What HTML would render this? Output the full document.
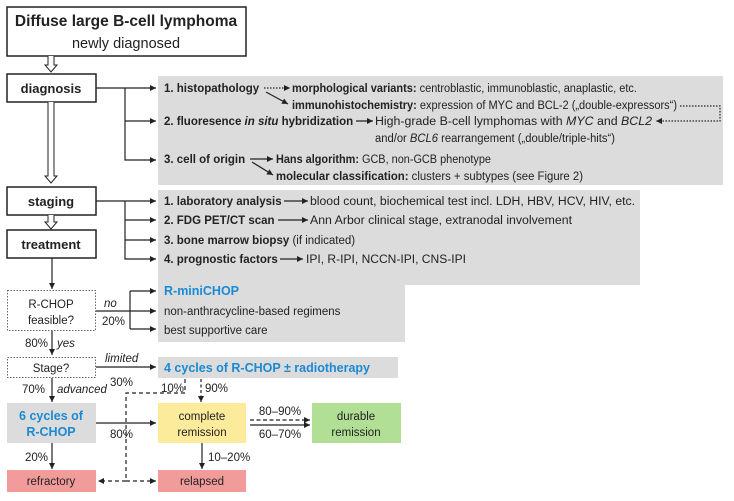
<!DOCTYPE html>
<html><head><meta charset="utf-8"><style>
body{margin:0;background:#fff;}
svg{font-family:"Liberation Sans",Arial,sans-serif;}
text{font-size:11.5px;fill:#222;}
.b{font-weight:bold;}
.bl{fill:#1a8ad4;font-weight:bold;}
.i{font-style:italic;}
</style></head><body>
<svg width="734" height="496" viewBox="0 0 734 496" xmlns="http://www.w3.org/2000/svg">
<defs>
<marker id="a" markerWidth="6" markerHeight="6" refX="5" refY="3" orient="auto"><path d="M0,0.5 L5,3 L0,5.5z" fill="#222"/></marker>
</defs>
<rect x="158" y="76" width="565" height="109" fill="#dcdcdc"/>
<rect x="158" y="190" width="482" height="95" fill="#dcdcdc"/>
<rect x="158" y="279" width="247" height="63" fill="#dcdcdc"/>
<rect x="158" y="357" width="240" height="21" fill="#dcdcdc"/>
<rect x="7" y="7" width="239" height="49" fill="#fff" stroke="#222" stroke-width="1.5"/>
<text x="126" y="26" text-anchor="middle" class="b" style="font-size:15.5px">Diffuse large B-cell lymphoma</text>
<text x="126" y="48" text-anchor="middle" style="font-size:14.5px">newly diagnosed</text>
<rect x="7" y="74" width="89" height="28" fill="#fff" stroke="#222" stroke-width="1.5"/>
<text x="51" y="93" text-anchor="middle" class="b" style="font-size:13px">diagnosis</text>
<rect x="7" y="187" width="89" height="28" fill="#fff" stroke="#222" stroke-width="1.5"/>
<text x="51" y="206" text-anchor="middle" class="b" style="font-size:13px">staging</text>
<rect x="7" y="230" width="89" height="28" fill="#fff" stroke="#222" stroke-width="1.5"/>
<text x="51" y="249" text-anchor="middle" class="b" style="font-size:13px">treatment</text>
<g fill="#fff" stroke="#222" stroke-width="1">
<path d="M48,56 V65 H45 L51,72 L57,65 H54 V56"/>
<path d="M48,102 V176 H45 L51,183 L57,176 H54 V102"/>
<path d="M48,215 V222 H45 L51,229 L57,222 H54 V215"/>
</g>
<g stroke="#222" stroke-width="1.2" fill="none">
<path d="M96,88 H156" marker-end="url(#a)"/>
<path d="M125,88 V160 H156" marker-end="url(#a)"/>
<path d="M125,121 H156" marker-end="url(#a)"/>
<path d="M96,201 H156" marker-end="url(#a)"/>
<path d="M125,201 V259 H156" marker-end="url(#a)"/>
<path d="M125,220 H156" marker-end="url(#a)"/>
<path d="M125,240 H156" marker-end="url(#a)"/>
<path d="M264,88 H290" stroke-dasharray="1.5,1.5" marker-end="url(#a)"/>
<path d="M266,92 L288,104" marker-end="url(#a)"/>
<path d="M356,121 H373" marker-end="url(#a)"/>
<path d="M250,159 H273" marker-end="url(#a)"/>
<path d="M252,162 L273,175" marker-end="url(#a)"/>
<path d="M680,106 H720 V121 H656" stroke-dasharray="1.5,1.5" marker-end="url(#a)"/>
<path d="M284,201 H308" marker-end="url(#a)"/>
<path d="M278,220 H308" marker-end="url(#a)"/>
<path d="M280,259 H303" marker-end="url(#a)"/>
<path d="M52,258 V289" marker-end="url(#a)"/>
<path d="M96,311 H156" marker-end="url(#a)"/>
<path d="M130,291 V329" />
<path d="M130,291 H156" marker-end="url(#a)"/>
<path d="M130,329 H156" marker-end="url(#a)"/>
<path d="M52,330 V355" marker-end="url(#a)"/>
<path d="M96,367 H156" marker-end="url(#a)"/>
<path d="M52,378 V402" marker-end="url(#a)"/>
<path d="M96,423 H156" marker-end="url(#a)"/>
<path d="M52,443 V469" marker-end="url(#a)"/>
<path d="M202,443 V469" marker-end="url(#a)"/>
<path d="M250,425 H310" marker-end="url(#a)"/>
<path d="M250,420 H310" stroke-dasharray="4,2.5" marker-end="url(#a)"/>
<path d="M201,379 V402" stroke-dasharray="3,2.5" marker-end="url(#a)"/>
<path d="M185,379 V393 H126 V481" stroke-dasharray="4,3"/>
<path d="M126,481 H156" stroke-dasharray="4,3" marker-end="url(#a)"/>
<path d="M126,481 H98" stroke-dasharray="4,3" marker-end="url(#a)"/>
</g>
<rect x="7.5" y="290.5" width="88" height="40" fill="#fff" stroke="#666" stroke-dasharray="1.5,1.5"/>
<rect x="7.5" y="357.5" width="88" height="20" fill="#fff" stroke="#666" stroke-dasharray="1.5,1.5"/>
<rect x="7" y="403" width="89" height="40" fill="#dcdcdc"/>
<rect x="158" y="403" width="88" height="40" fill="#fdeb9c"/>
<rect x="312" y="403" width="89" height="40" fill="#b2df96"/>
<rect x="7" y="470" width="89" height="22" fill="#f29b9b"/>
<rect x="158" y="470" width="88" height="22" fill="#f29b9b"/>
<text x="164" y="92" class="b">1. histopathology</text>
<text x="292" y="92" textLength="345" lengthAdjust="spacingAndGlyphs"><tspan class="b">morphological variants:</tspan> centroblastic, immunoblastic, anaplastic, etc.</text>
<text x="292" y="109" textLength="385" lengthAdjust="spacingAndGlyphs"><tspan class="b">immunohistochemistry:</tspan> expression of MYC and BCL-2 („double-expressors“)</text>
<text x="164" y="125" class="b">2. fluoresence <tspan class="i">in situ</tspan> hybridization</text>
<text x="375" y="125" textLength="277" lengthAdjust="spacingAndGlyphs">High-grade B-cell lymphomas with <tspan class="i">MYC</tspan> and <tspan class="i">BCL2</tspan></text>
<text x="375" y="142" textLength="240" lengthAdjust="spacingAndGlyphs">and/or <tspan class="i">BCL6</tspan> rearrangement („double/triple-hits“)</text>
<text x="164" y="163" class="b">3. cell of origin</text>
<text x="276" y="163" textLength="215" lengthAdjust="spacingAndGlyphs"><tspan class="b">Hans algorithm:</tspan> GCB, non-GCB phenotype</text>
<text x="276" y="180" textLength="307" lengthAdjust="spacingAndGlyphs"><tspan class="b">molecular classification:</tspan> clusters + subtypes (see Figure 2)</text>
<text x="164" y="205" class="b">1. laboratory analysis</text>
<text x="310" y="205" textLength="325" lengthAdjust="spacingAndGlyphs">blood count, biochemical test incl. LDH, HBV, HCV, HIV, etc.</text>
<text x="164" y="224" class="b">2. FDG PET/CT scan</text>
<text x="310" y="224" textLength="262" lengthAdjust="spacingAndGlyphs">Ann Arbor clinical stage, extranodal involvement</text>
<text x="164" y="244"><tspan class="b">3. bone marrow biopsy</tspan> (if indicated)</text>
<text x="164" y="263" class="b">4. prognostic factors</text>
<text x="306" y="263" textLength="160" lengthAdjust="spacingAndGlyphs">IPI, R-IPI, NCCN-IPI, CNS-IPI</text>
<text x="51" y="308" text-anchor="middle">R-CHOP</text>
<text x="51" y="324" text-anchor="middle">feasible?</text>
<text x="104" y="307" class="i">no</text>
<text x="102" y="325">20%</text>
<text x="164" y="295" class="bl" style="font-size:12.5px">R-miniCHOP</text>
<text x="164" y="315">non-anthracycline-based regimens</text>
<text x="164" y="334">best supportive care</text>
<text x="25" y="347">80%</text>
<text x="57" y="347" class="i">yes</text>
<text x="51" y="372" text-anchor="middle">Stage?</text>
<text x="105" y="362" class="i">limited</text>
<text x="110" y="386">30%</text>
<text x="164" y="372" class="bl" style="font-size:12.5px">4 cycles of R-CHOP ± radiotherapy</text>
<text x="161" y="392">10%</text>
<text x="205" y="392">90%</text>
<text x="22" y="393">70%</text>
<text x="57" y="393" class="i">advanced</text>
<text x="51" y="420" text-anchor="middle" class="bl" style="font-size:12.5px">6 cycles of</text>
<text x="51" y="436" text-anchor="middle" class="bl" style="font-size:12.5px">R-CHOP</text>
<text x="110" y="438">80%</text>
<text x="202" y="420" text-anchor="middle">complete</text>
<text x="202" y="436" text-anchor="middle">remission</text>
<text x="280" y="415" text-anchor="middle">80–90%</text>
<text x="280" y="438" text-anchor="middle">60–70%</text>
<text x="356" y="420" text-anchor="middle">durable</text>
<text x="356" y="436" text-anchor="middle">remission</text>
<text x="25" y="461">20%</text>
<text x="208" y="461">10–20%</text>
<text x="51" y="485" text-anchor="middle">refractory</text>
<text x="202" y="485" text-anchor="middle">relapsed</text>
</svg>
</body></html>
